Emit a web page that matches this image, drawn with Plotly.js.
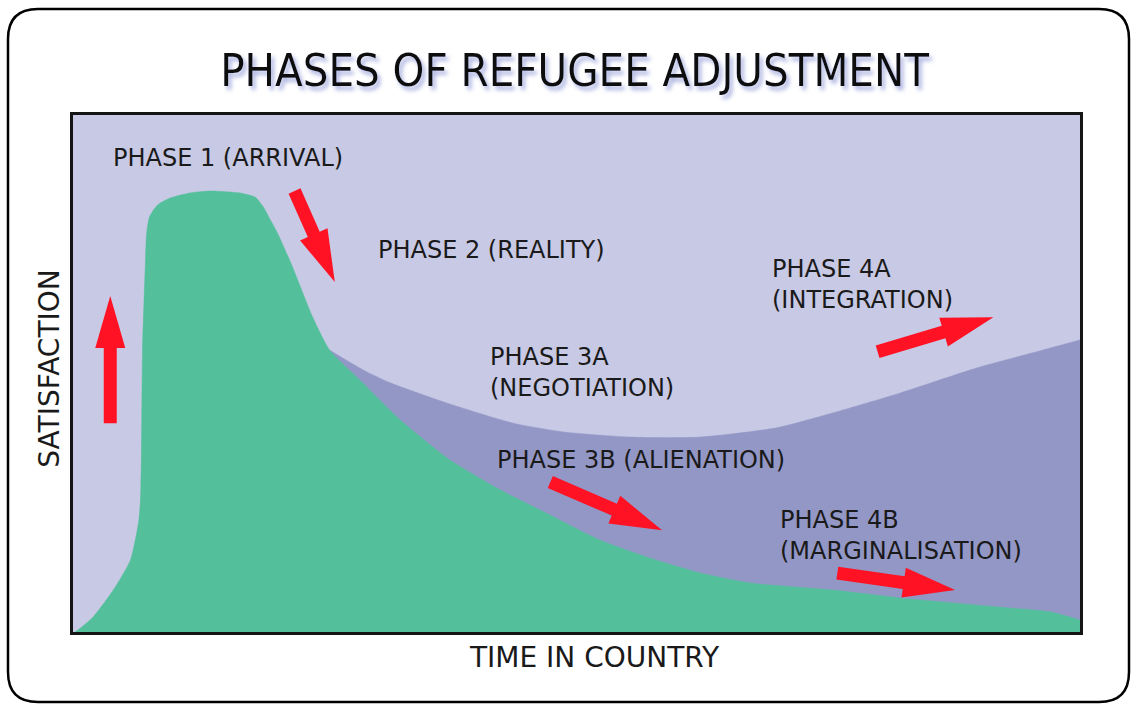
<!DOCTYPE html>
<html>
<head>
<meta charset="utf-8">
<script src="https://cdn.plot.ly/plotly-3.0.1.min.js"></script>
<style>
html,body{margin:0;padding:0;background:#fff;}
#chart{width:1131px;height:704px;}
</style>
</head>
<body>
<div id="chart"></div>
<script>
// ---- Data (time in country 0-100, satisfaction 0-100) ----
const greenX = [0.2, 0.5, 2.0, 4.0, 5.7, 6.5, 6.7, 6.8, 6.9, 7.2, 7.3, 7.6, 8.4, 9.6, 11.6, 13.6, 16.6, 18.1, 18.9, 19.6, 20.3, 21.8, 23.8, 25.5, 28.5, 32.5, 37.4, 42.4, 47.4, 52.3, 57.3, 62.3, 67.2, 75.5, 82.1, 92.1, 97.0, 100];
const greenY = [0, 0.4, 2.9, 8.1, 13.9, 21.1, 25.5, 35.2, 54.5, 72.0, 76.8, 80.3, 82.6, 83.9, 84.9, 85.3, 84.9, 84.1, 82.2, 79.7, 77.2, 70.6, 60.9, 54.5, 48.7, 41.0, 33.3, 27.5, 22.6, 17.8, 14.3, 11.4, 9.5, 8.1, 6.6, 4.8, 3.9, 2.3];

const integrationX = [25.5, 28.8, 31.5, 37.1, 43.7, 48.7, 55.3, 62.3, 69.9, 75.5, 82.1, 89.8, 95.3, 100];
const integrationY = [54.5, 50.7, 48.2, 44.3, 40.4, 38.7, 37.7, 37.7, 39.5, 42.4, 46.2, 51.1, 54.0, 56.5];

// phase labels
const labelText = ["PHASE 1 (ARRIVAL)", "PHASE 2 (REALITY)", "PHASE 4A<br>(INTEGRATION)", "PHASE 3A<br>(NEGOTIATION)", "PHASE 3B (ALIENATION)", "PHASE 4B<br>(MARGINALISATION)"];
const labelX = [3.8, 30.05, 69.25, 41.25, 41.95, 70.05];
const labelY = [91.7, 73.9, 67.3, 50.2, 33.3, 18.6];

// direction arrows (tail -> tip)
const arrowTailX = [3.7, 22.0, 79.9, 47.4, 75.9];
const arrowTailY = [40.4, 85.3, 54.2, 29.0, 11.4];
const arrowTipX  = [3.7, 26.0, 91.4, 58.5, 87.6];
const arrowTipY  = [65.0, 67.7, 60.9, 19.7, 8.1];

const titleText = "PHASES OF REFUGEE ADJUSTMENT";
const xTitle = "TIME IN COUNTRY";
const yTitle = "SATISFACTION";

// ---- Layout geometry ----
const W = 1131, H = 704;
const M = {l: 73, r: 51, t: 115, b: 72};
const PW = W - M.l - M.r, PH = H - M.t - M.b;
const FONT = "'DejaVu Sans', Verdana, sans-serif";
const TFONT = "'DejaVu Sans Condensed', 'DejaVu Sans', sans-serif";

function toPx(x, y) { return [M.l + x / 100 * PW, M.t + (1 - y / 100) * PH]; }
function toData(px, py) { return [(px - M.l) / PW * 100, (1 - (py - M.t) / PH) * 100]; }

function arrowShape(x0, y0, x1, y1) {
  const [ax, ay] = toPx(x0, y0), [bx, by] = toPx(x1, y1);
  const dx = bx - ax, dy = by - ay, len = Math.hypot(dx, dy);
  const ux = dx / len, uy = dy / len, nx = -uy, ny = ux;
  const sw = 6.5, hw = 15, hl = 52;
  const cx = bx - ux * hl, cy = by - uy * hl;
  const pts = [
    [ax + nx * sw, ay + ny * sw], [cx + nx * sw, cy + ny * sw], [cx + nx * hw, cy + ny * hw],
    [bx, by], [cx - nx * hw, cy - ny * hw], [cx - nx * sw, cy - ny * sw], [ax - nx * sw, ay - ny * sw]
  ].map(p => toData(p[0], p[1]));
  const path = 'M' + pts.map(p => p[0].toFixed(3) + ',' + p[1].toFixed(3)).join(' L') + ' Z';
  return {type: 'path', xref: 'x', yref: 'y', path: path, fillcolor: '#ff1224', line: {width: 0}, layer: 'above'};
}

function paperPt(px, py) { return [(px - M.l) / PW, (M.t + PH - py) / PH]; }
function roundedFrame(x0, y0, x1, y1, r) {
  const P = (px, py) => { const q = paperPt(px, py); return q[0].toFixed(5) + ',' + q[1].toFixed(5); };
  return 'M' + P(x0 + r, y0) + ' L' + P(x1 - r, y0) + ' Q' + P(x1, y0) + ' ' + P(x1, y0 + r) +
    ' L' + P(x1, y1 - r) + ' Q' + P(x1, y1) + ' ' + P(x1 - r, y1) +
    ' L' + P(x0 + r, y1) + ' Q' + P(x0, y1) + ' ' + P(x0, y1 - r) +
    ' L' + P(x0, y0 + r) + ' Q' + P(x0, y0) + ' ' + P(x0 + r, y0) + ' Z';
}

const traces = [
  {x: integrationX, y: integrationY, type: 'scatter', mode: 'lines', fill: 'tozeroy',
   fillcolor: '#9397c6', line: {color: '#9397c6', width: 0.5, shape: 'spline', smoothing: 0.6}, hoverinfo: 'skip', showlegend: false},
  {x: greenX, y: greenY, type: 'scatter', mode: 'lines', fill: 'tozeroy',
   fillcolor: '#53bf9b', line: {color: '#53bf9b', width: 0.5, shape: 'spline', smoothing: 0.6}, hoverinfo: 'skip', showlegend: false}
];

const shapes = [];
for (let i = 0; i < arrowTailX.length; i++) shapes.push(arrowShape(arrowTailX[i], arrowTailY[i], arrowTipX[i], arrowTipY[i]));
shapes.push({type: 'path', xref: 'paper', yref: 'paper', path: roundedFrame(8, 9, 1129, 702, 30),
  line: {color: '#000', width: 2.5}, fillcolor: 'rgba(0,0,0,0)', layer: 'below'});

const annotations = labelText.map((t, i) => ({
  x: labelX[i], y: labelY[i], xref: 'x', yref: 'y', text: t, showarrow: false,
  xanchor: 'left', yanchor: 'middle', align: 'left',
  font: {family: FONT, size: 24, color: '#1a1a1a'}
}));

const layout = {
  width: W, height: H, margin: M,
  paper_bgcolor: '#ffffff', plot_bgcolor: '#c8c9e4',
  title: {text: titleText, x: 0.508, xanchor: 'center', y: 0.9, yref: 'container', yanchor: 'middle',
          font: {family: TFONT, size: 45, color: '#111'}},
  xaxis: {range: [0, 100], showgrid: false, zeroline: false, showticklabels: false, ticks: '',
          showline: true, mirror: true, linewidth: 3, linecolor: '#151515', fixedrange: true,
          title: {text: xTitle, standoff: 14, font: {family: FONT, size: 28, color: '#1a1a1a'}}},
  yaxis: {range: [0, 100], showgrid: false, zeroline: false, showticklabels: false, ticks: '',
          showline: true, mirror: true, linewidth: 3, linecolor: '#151515', fixedrange: true,
          title: {text: yTitle, standoff: 8, font: {family: FONT, size: 28, color: '#1a1a1a'}}},
  shapes: shapes, annotations: annotations, showlegend: false
};

Plotly.newPlot('chart', traces, layout, {displayModeBar: false, staticPlot: true}).then(() => {
  const svg = document.querySelector('#chart svg.main-svg');
  const ns = 'http://www.w3.org/2000/svg';
  const defs = document.createElementNS(ns, 'defs');
  defs.innerHTML = '<filter id="tshadow" x="-10%" y="-30%" width="120%" height="170%"><feDropShadow dx="3" dy="4" stdDeviation="2" flood-color="#8f98d6" flood-opacity="0.75"/></filter>';
  svg.insertBefore(defs, svg.firstChild);
  const t = document.querySelector('#chart .gtitle');
  if (t) t.setAttribute('filter', 'url(#tshadow)');
  // fine position of the axis titles as in the reference
  const gx = document.querySelector('#chart .g-xtitle');
  if (gx) gx.setAttribute('transform', 'translate(18,0)');
  const gy = document.querySelector('#chart .g-ytitle');
  if (gy) gy.setAttribute('transform', 'translate(5,-5)');
});
</script>
</body>
</html>
